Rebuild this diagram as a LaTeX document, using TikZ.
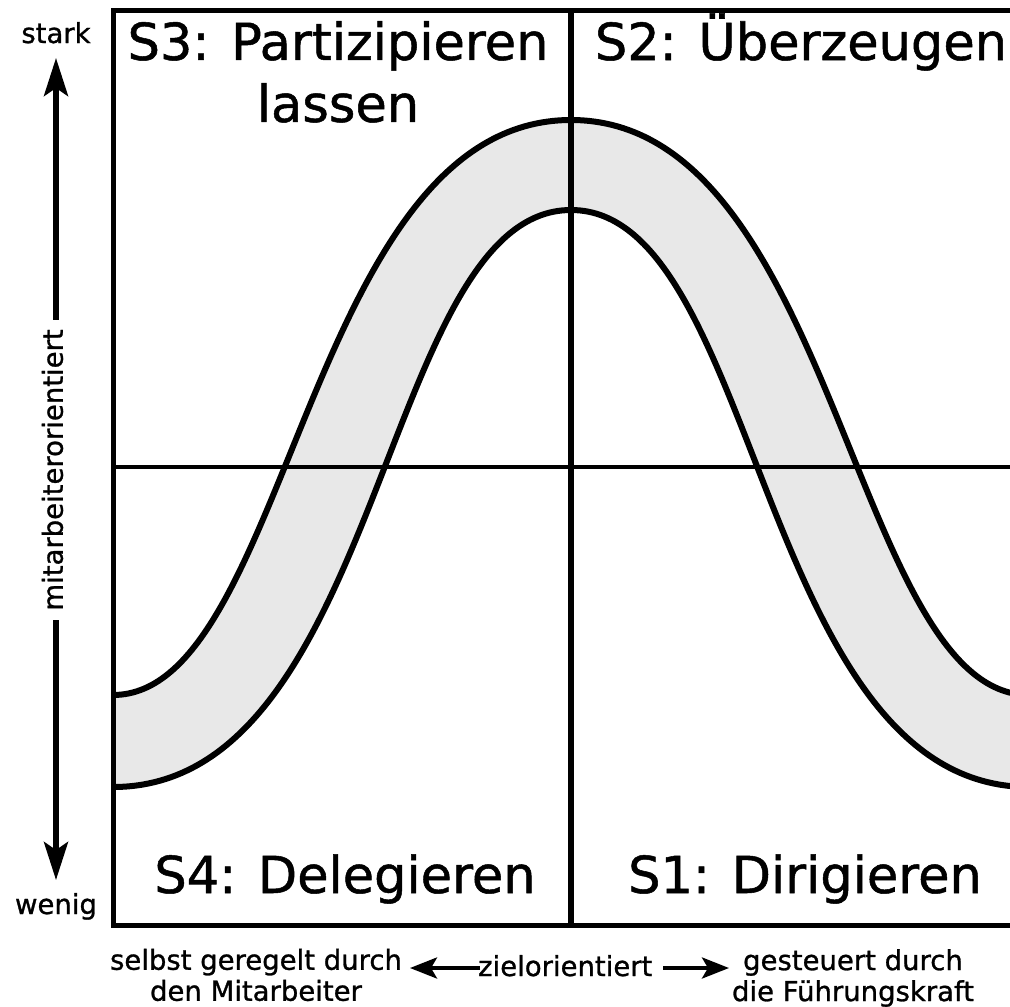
\documentclass[tikz,border=0pt]{standalone}
\usepackage{fontspec}
\setmainfont{DejaVu Sans}[FakeBold=0]
\newfontfamily\heavyfam{DejaVu Sans}[FakeBold=1]
\usetikzlibrary{arrows.meta}
\definecolor{bandgray}{HTML}{E8E8E8}
\begin{document}
\begin{tikzpicture}[x=1pt,y=-1pt,
  big/.style={font=\heavyfam\fontsize{51}{62}\selectfont, align=center, inner sep=0pt},
  small/.style={font=\heavyfam\fontsize{27.5}{31}\selectfont, align=center, inner sep=0pt},
  curveline/.style={line width=6pt},
  framelines/.style={line width=5pt, line join=miter},
  vaxis/.style={line width=5.5pt, {Stealth[length=38pt,width=24pt,inset=8pt]}-{Stealth[length=38pt,width=24pt,inset=8pt]}},
  haxis/.style={line width=4pt, -{Stealth[length=27pt,width=21pt,inset=6pt]}}
]
\useasboundingbox (0,0) rectangle (1010,1007);
\fill[white] (0,0) rectangle (1010,1007);

% band
\fill[bandgray] (113,695) .. controls (289,695) and (307,120) .. (571,120)
  .. controls (835,120) and (853,695) .. (1029,695) -- (1029,787)
  .. controls (759,787) and (760,210) .. (571,210)
  .. controls (382,210) and (383,787) .. (113,787) -- cycle;
\draw[curveline] (113,695) .. controls (289,695) and (307,120) .. (571,120)
  .. controls (835,120) and (853,695) .. (1029,695);
\draw[curveline] (113,787) .. controls (383,787) and (382,210) .. (571,210)
  .. controls (760,210) and (759,787) .. (1029,787);

% grid
\draw[line width=4.5pt] (113,467) -- (1020,467);
\draw[line width=6.5pt] (571,10) -- (571,925);
\draw[framelines] (1020,10) -- (113,10) -- (113,925) -- (1020,925);

% quadrant labels
\node[big, anchor=north] (s3) at (338,21) {S3: Partizipieren\\lassen};
\node[big, anchor=base] (s2) at (801,60) {S2: Überzeugen};
\node[big, anchor=base] (s4) at (345,893) {S4: Delegieren};
\node[big, anchor=base] (s1) at (805,893) {S1: Dirigieren};

% vertical axis
\node[small, anchor=base] (stark) at (56,43) {stark};
\node[small, anchor=base] (wenig) at (56,914) {wenig};
\coordinate (vtop) at (56,58);
\coordinate (vbot) at (56,880);
\draw[vaxis] (vtop) -- (vbot);
\node[small, rotate=90, fill=white, inner xsep=9pt, inner ysep=2pt] (mit) at (52.5,470) {mitarbeiterorientiert};

% horizontal axis
\node[small] (left) at (256,975) {selbst geregelt durch\\den Mitarbeiter};
\node[small] (right) at (853,978) {gesteuert durch\\die Führungskraft};
\node[small, anchor=base west] (ziel) at (478,976) {zielorientiert};
\coordinate (la) at (480,968);
\coordinate (lb) at (410,968);
\coordinate (ra) at (663,968);
\coordinate (rb) at (729,968);
\draw[haxis] (la) -- (lb);
\draw[haxis] (ra) -- (rb);
\end{tikzpicture}
\end{document}
